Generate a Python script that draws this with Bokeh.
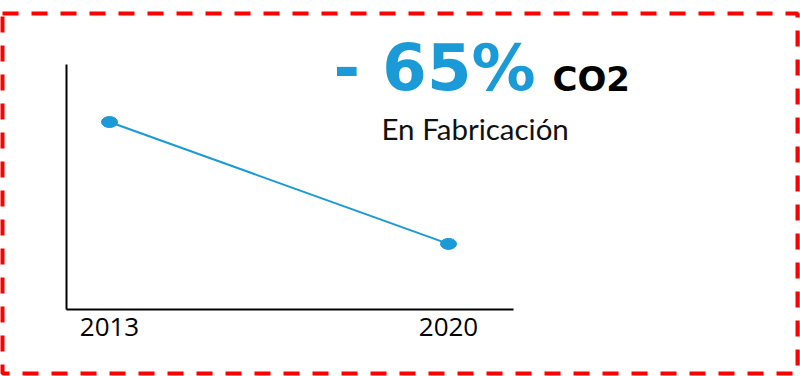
from bokeh.plotting import figure
from bokeh.models import LinearAxis, FixedTicker, Label, Range1d
from bokeh.embed import file_html
from bokeh.resources import INLINE

# ---- data ----
years = [2013, 2020]
co2 = [100, 35]          # indexed CO2 in manufacturing (-65%)
tick_years = [2013, 2020]
headline = "- 65%"
unit_text = "CO2"
subtitle = "En Fabricación"

BLUE = "#1a9ad6"
W, H = 800, 376
# frame (dashed red outline) in canvas pixels
FL, FR, FT, FB = 2, 797, 13, 373

# pixel anchors for the scales
px_x0, px_x1 = 109, 448          # canvas x of first/last year
px_y0, px_y100 = 309, 121.5      # canvas y of value 0 and value 100
sx = (px_x1 - px_x0) / (years[-1] - years[0])
sy = (px_y0 - px_y100) / 100.0

def xval(px):
    return years[0] + (px - px_x0) / sx

def yval(py):
    return (px_y0 - py) / sy

p = figure(width=W, height=H, output_backend="svg", toolbar_location=None,
           x_axis_type=None, y_axis_type=None,
           x_range=Range1d(xval(FL), xval(FR)), y_range=Range1d(yval(FB), yval(FT)),
           min_border_left=FL, min_border_right=W - FR,
           min_border_top=FT, min_border_bottom=H - FB)
p.xgrid.visible = False
p.ygrid.visible = False
p.background_fill_color = "white"
p.border_fill_color = "white"
p.outline_line_color = "#ff0000"
p.outline_line_width = 4
p.outline_line_dash = "16 13"

ax_x = xval(65.5)
xaxis = LinearAxis(fixed_location=0, ticker=FixedTicker(ticks=tick_years),
                   bounds=(ax_x, xval(513)))
xaxis.axis_line_color = "black"
xaxis.axis_line_width = 2
xaxis.major_tick_line_color = None
xaxis.minor_tick_line_color = None
xaxis.major_tick_out = 0
xaxis.major_label_standoff = 8
xaxis.major_label_text_font = "Open Sans"
xaxis.major_label_text_font_size = "26px"
xaxis.major_label_text_color = "black"
p.add_layout(xaxis, "below")

yaxis = LinearAxis(fixed_location=ax_x, ticker=FixedTicker(ticks=[]),
                   bounds=(0, yval(64)))
yaxis.axis_line_color = "black"
yaxis.axis_line_width = 2
yaxis.major_tick_line_color = None
yaxis.minor_tick_line_color = None
yaxis.major_label_text_font_size = "0px"
p.add_layout(yaxis, "left")

p.line(years, co2, line_color=BLUE, line_width=2)
p.ellipse(x=years, y=co2, width=16, height=11, width_units="screen",
          height_units="screen", fill_color=BLUE, line_color=BLUE)

def lab(text, cx, cy, size, color, style="normal", font="Lato"):
    p.add_layout(Label(x=cx - FL, y=FB - cy, x_units="screen", y_units="screen",
                       text=text, text_font=font, text_font_size=size,
                       text_color=color, text_font_style=style,
                       text_baseline="alphabetic", text_align="left"))

lab(headline, 333, 67, "64px", BLUE, "bold", "DejaVu Sans")
lab(unit_text, 552, 78, "34px", "black", "bold", "DejaVu Sans")
lab(subtitle, 381, 128, "29.5px", "#111111", "normal", "Lato")

open("out.html", "w").write(file_html(p, INLINE))
